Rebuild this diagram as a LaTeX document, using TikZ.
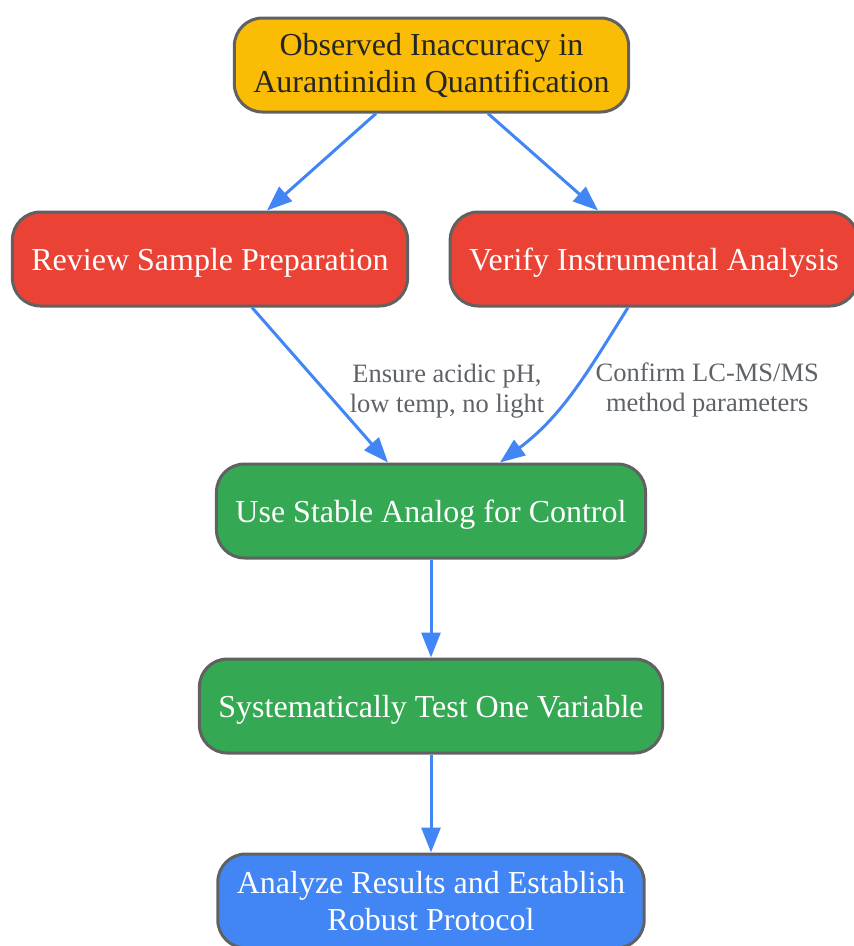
\documentclass[tikz,border=0pt]{standalone}
\usepackage{fontspec}
\setmainfont{Liberation Serif}
\usepackage{xcolor}
\usepackage{tikz}
\usetikzlibrary{arrows.meta,positioning}
\definecolor{gold}{HTML}{FBBC05}
\definecolor{redbox}{HTML}{EA4335}
\definecolor{greenbox}{HTML}{34A853}
\definecolor{bluebox}{HTML}{4285F4}
\definecolor{edgeblue}{HTML}{4285F4}
\definecolor{rim}{HTML}{616161}
\definecolor{note}{HTML}{5F6368}

\begin{document}
\begin{tikzpicture}[node distance={98pt}, main/.style = {draw=rim, line width=3pt, rounded corners=28pt, minimum height=94pt, inner xsep=19pt, align=center, text=white, font=\fontsize{32}{37}\selectfont}, oneline/.style = {main, text height=30pt}, lbl/.style = {align=center, text=note, font=\fontsize{26.5}{30}\selectfont}, link/.style = {-{Triangle[length=25pt,width=19pt]}, edgeblue, line width=3pt}]
\useasboundingbox (0,0) rectangle (854pt,-946pt);
\node[main, fill=gold, text=black!85] (obs) at (431.5pt,-65pt) {Observed Inaccuracy in\\Aurantinidin Quantification};
\node[oneline, fill=redbox] (rev) [below=97pt of obs, xshift=-221.5pt] {Review Sample Preparation};
\node[oneline, fill=redbox] (ver) [below=97pt of obs, xshift=222.5pt] {Verify Instrumental Analysis};
\node[oneline, fill=greenbox] (use) [below=155pt of rev, xshift=221pt] {Use Stable Analog for Control};
\node[oneline, fill=greenbox] (sys) [below=of use] {Systematically Test One Variable};
\node[main, fill=bluebox] (ana) [below=of sys] {Analyze Results and Establish\\Robust Protocol};
\draw[link] ([xshift=-55.5pt]obs.south) -- ([xshift=57pt]rev.north);
\draw[link] ([xshift=56.5pt]obs.south) -- ([xshift=-56pt]ver.north);
\draw[link] ([xshift=42pt]rev.south) -- node[lbl, right=25pt, yshift=-6pt] {Ensure acidic pH,\\low temp, no light} ([xshift=-43pt]use.north);
\draw[link] ([xshift=-26pt]ver.south) to[out=-122, in=37] node[lbl, right=19pt, yshift=2pt] {Confirm LC-MS/MS\\method parameters} ([xshift=69pt]use.north);
\draw[link] (use) -- (sys);
\draw[link] (sys) -- (ana);
\end{tikzpicture}
\end{document}
